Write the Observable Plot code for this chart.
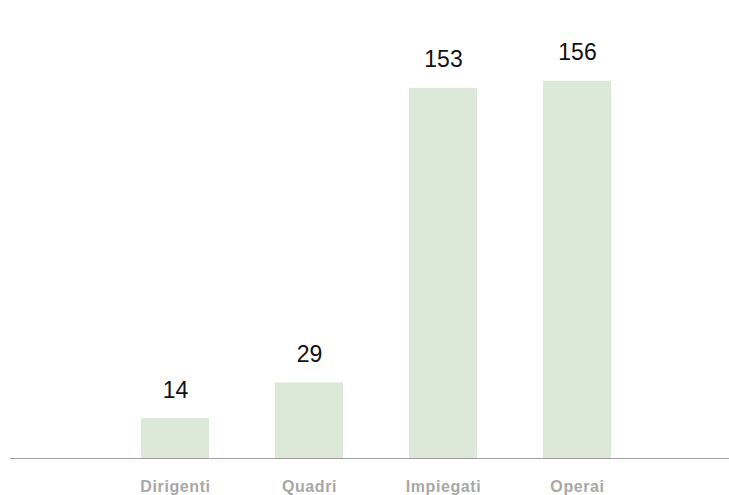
<!DOCTYPE html>
<html>
<head>
<meta charset="utf-8">
<script src="https://cdn.jsdelivr.net/npm/d3@7"></script>
<script src="https://cdn.jsdelivr.net/npm/@observablehq/plot@0.6"></script>
<style>
  html, body { margin: 0; padding: 0; background: #fff; }
  #chart { width: 729px; height: 495px; }
</style>
</head>
<body>
<div id="chart"></div>
<script>
const categories = ["Dirigenti", "Quadri", "Impiegati", "Operai"];
const values = [14, 29, 153, 156];

const data = categories.map((c, i) => ({category: c, value: values[i]}));

const chart = Plot.plot({
  width: 729,
  height: 495,
  marginTop: 0,
  marginBottom: 37,
  marginLeft: 10,
  marginRight: 0,
  style: {fontFamily: "Liberation Sans, Arial, Helvetica, sans-serif", background: "#fff"},
  x: {
    domain: categories,
    paddingInner: 0.495,
    paddingOuter: 0.917,
    align: 0.526,
    label: null
  },
  y: {domain: [-2.84, 190], axis: null},
  marks: [
    Plot.barY(data, {x: "category", y: "value", fill: "#dde9d8", insetBottom: -7}),
    Plot.ruleY([-2.84], {stroke: "#9e9e9e", strokeWidth: 1.2}),
    Plot.text(data, {
      x: "category", y: "value", text: d => String(d.value),
      lineAnchor: "bottom", dy: -21, fontSize: 23, fill: "#111"
    }),
    Plot.axisX({
      tickSize: 0, tickPadding: 22, fontSize: 16, fontWeight: "bold",
      fill: "#a8a8a8", label: null
    })
  ]
});
chart.querySelectorAll("[aria-label='x-axis tick label'] text").forEach(t => t.setAttribute("letter-spacing", "0.6px"));
document.getElementById("chart").appendChild(chart);
</script>
</body>
</html>
